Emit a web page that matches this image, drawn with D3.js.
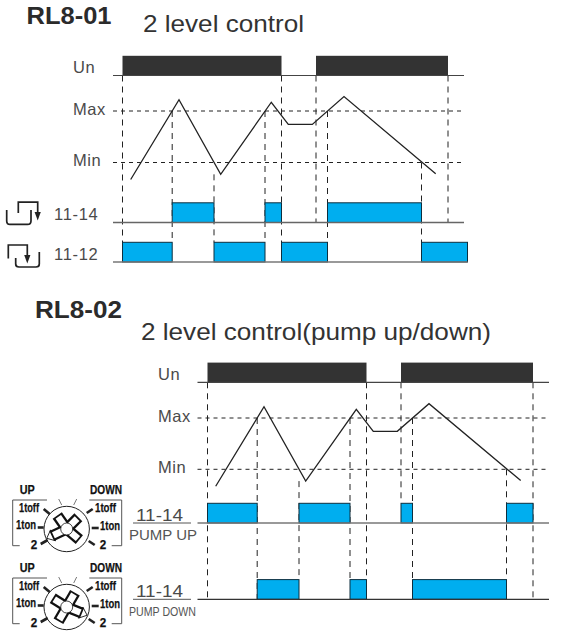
<!DOCTYPE html>
<html>
<head>
<meta charset="utf-8">
<script src="https://cdn.jsdelivr.net/npm/d3@7"></script>
<style>
  html, body { margin: 0; padding: 0; background: #fff; }
  text { font-family: "Liberation Sans", Arial, sans-serif; }
</style>
</head>
<body>
<div id="chart"></div>
<script>
const supplyOn = [[0, 159], [193.5, 325.5]];
const levelTime = [8.2, 56.5, 98.2, 148.8, 165.8, 189.8, 221.5, 313.2];
const levelValue = [-33, 122, -23, 117, 74, 74, 128, -22];
const levelTicks = [{name: 'Max', value: 100}, {name: 'Min', value: 0}];

const relay1114 = [[49.7, 91.5], [142.5, 159], [205, 299]];
const relay1112 = [[0, 49.7], [91.5, 142.5], [159, 205], [299, 345]];
const pumpUp = [[0, 49.7], [91.5, 142.5], [193.5, 205], [299, 325.5]];
const pumpDown = [[49.7, 91.5], [142.5, 159], [205, 299]];

// [time, where the guide starts, which row it stops at]
const guides01 = [
    [0, 'un', 'r2top'], [49.7, 'max', 'r2top'], [91.5, 'low', 'r2top'], [142.5, 'max', 'r2top'],
    [159, 'un', 'r2top'], [193.5, 'un', 'r1'], [205, 'max', 'r2top'], [299, 'min', 'r2top'], [325.5, 'un', 'r1']
];
const guides02 = [
    [0, 'un', 'r2'], [49.7, 'max', 'r2'], [91.5, 'low', 'r2top'], [142.5, 'max', 'r2top'],
    [159, 'un', 'r2'], [193.5, 'un', 'r1top'], [205, 'max', 'r2top'], [299, 'min', 'r2top'], [325.5, 'un', 'r2']
];

const width = 569, height = 641;
const BLUE = '#00aeef', DARK = '#333333', TEXT = '#4a4a4a', INK = '#222222';

const svg = d3.select('#chart').append('svg')
    .attr('width', width)
    .attr('height', height)
    .style('display', 'block');

function label(g, x, y, str, size, opts = {}) {
    return g.append('text')
        .attr('x', x).attr('y', y)
        .attr('font-size', size)
        .attr('font-weight', opts.weight || 'normal')
        .attr('fill', opts.fill || TEXT)
        .attr('letter-spacing', opts.spacing || 0)
        .attr('textLength', opts.length || null)
        .attr('lengthAdjust', opts.length ? 'spacingAndGlyphs' : null)
        .text(str);
}

function drawTiming(cfg) {
    const g = svg.append('g');
    const x = d3.scaleLinear().domain([0, 325.5]).range([cfg.x0, cfg.x0 + 325.5]);
    const y = d3.scaleLinear().domain([0, 100]).range([cfg.minY, cfg.maxY]);
    const rowH = 19.7;

    const stops = {
        un: cfg.unY, max: cfg.maxY, min: cfg.minY, low: y(-23),
        r1: cfg.row1Y, r1top: cfg.row1Y - rowH, r2: cfg.row2Y, r2top: cfg.row2Y - rowH
    };

    // guides go under everything else
    g.selectAll('line.guide')
        .data(cfg.guides)
        .enter()
        .append('line')
        .attr('class', 'guide')
        .attr('x1', d => x(d[0])).attr('x2', d => x(d[0]))
        .attr('y1', d => stops[d[1]]).attr('y2', d => stops[d[2]])
        .attr('stroke', INK)
        .attr('stroke-width', 1)
        .attr('stroke-dasharray', '6 5');

    // Max / Min levels
    g.selectAll('line.level')
        .data(levelTicks)
        .enter()
        .append('line')
        .attr('class', 'level')
        .attr('x1', cfg.lineL).attr('x2', cfg.levelR)
        .attr('y1', d => y(d.value)).attr('y2', d => y(d.value))
        .attr('stroke', INK)
        .attr('stroke-width', 1)
        .attr('stroke-dasharray', '4 4');

    // supply bars
    g.selectAll('rect.un')
        .data(supplyOn)
        .enter()
        .append('rect')
        .attr('class', 'un')
        .attr('x', d => x(d[0]))
        .attr('width', d => x(d[1]) - x(d[0]))
        .attr('y', cfg.unY - rowH)
        .attr('height', rowH)
        .attr('fill', DARK);
    g.append('line')
        .attr('x1', cfg.lineL).attr('x2', cfg.lineR)
        .attr('y1', cfg.unY).attr('y2', cfg.unY)
        .attr('stroke', '#444').attr('stroke-width', 1.2);

    // level signal
    const line = d3.line().x(d => x(d[0])).y(d => y(d[1]));
    g.append('path')
        .attr('d', line(d3.zip(levelTime, levelValue)))
        .attr('fill', 'none')
        .attr('stroke', INK)
        .attr('stroke-width', 1.3);

    // relay rows
    cfg.rows.forEach(row => {
        g.selectAll(null)
            .data(row.spans)
            .enter()
            .append('rect')
            .attr('x', d => x(d[0]))
            .attr('width', d => x(d[1]) - x(d[0]))
            .attr('y', row.y - rowH)
            .attr('height', rowH)
            .attr('fill', BLUE)
            .attr('stroke', '#0d2f3f')
            .attr('stroke-width', 1);
        g.append('line')
            .attr('x1', cfg.lineL).attr('x2', row.right)
            .attr('y1', row.y).attr('y2', row.y)
            .attr('stroke', row.stroke).attr('stroke-width', 1.3);
    });

    label(g, cfg.nameX, cfg.unY - 2.5, 'Un', 16.5, {spacing: 0.6});
    g.selectAll('text.tick')
        .data(levelTicks)
        .enter()
        .append('text')
        .attr('class', 'tick')
        .attr('x', cfg.nameX)
        .attr('y', d => y(d.value) + 3.5)
        .attr('font-size', 16.5)
        .attr('letter-spacing', 0.6)
        .attr('fill', TEXT)
        .text(d => d.name);
}

drawTiming({
    x0: 122.5, unY: 75.5, maxY: 111, minY: 162.5, row1Y: 222.5, row2Y: 262,
    lineL: 113, lineR: 464, levelR: 463, nameX: 73, guides: guides01,
    rows: [
        {spans: relay1114, y: 222.5, right: 464, stroke: '#666'},
        {spans: relay1112, y: 262, right: 467.5, stroke: '#777'}
    ]
});
drawTiming({
    x0: 207.5, unY: 382.3, maxY: 418, minY: 469.3, row1Y: 523, row2Y: 599.3,
    lineL: 197.5, lineR: 549, levelR: 548, nameX: 158, guides: guides02,
    rows: [
        {spans: pumpUp, y: 523, right: 549, stroke: '#777'},
        {spans: pumpDown, y: 599.3, right: 549, stroke: '#333'}
    ]
});

// titles
label(svg, 26.5, 24, 'RL8-01', 23, {weight: 'bold', fill: '#2b2b2b', length: 85});
label(svg, 143, 32, '2 level control', 24, {fill: '#333', length: 161});
label(svg, 35, 318, 'RL8-02', 23, {weight: 'bold', fill: '#2b2b2b', length: 87});
label(svg, 141, 340, '2 level control(pump up/down)', 24, {fill: '#333', length: 350});

// row names
label(svg, 54, 220, '11-14', 16.5, {spacing: 0.7});
label(svg, 54, 260, '11-12', 16.5, {spacing: 0.7});
label(svg, 136, 520.5, '11-14', 16.5, {length: 47});
label(svg, 136, 597, '11-14', 16.5, {length: 47});
label(svg, 129, 540, 'PUMP UP', 14, {length: 68, fill: '#555'});
label(svg, 129, 616, 'PUMP DOWN', 13, {length: 67, fill: '#555'});
[523, 599.3].forEach(yy => {
    svg.append('line')
        .attr('x1', 133).attr('x2', 191)
        .attr('y1', yy).attr('y2', yy)
        .attr('stroke', '#555').attr('stroke-width', 1);
});

// relay contact symbols
function relaySymbol(path, arrow) {
    const s = svg.append('g');
    s.append('path').attr('d', path)
        .attr('fill', 'none').attr('stroke', '#222').attr('stroke-width', 1.7);
    s.append('path').attr('d', arrow).attr('fill', '#222');
}
relaySymbol('M6.7,210V221Q6.7,224.4 10,224.4H27.5Q31,224.4 31,221V210M18.3,213V202.2H37.7V213',
    'M34.6,212L40.8,212L37.7,220.5Z');
relaySymbol('M8.3,258.5V245H27.3V256M15.7,258V264Q15.7,267 19,267H36Q39.3,267 39.3,264V252',
    'M24.2,255L30.4,255L27.3,263.5Z');

// selector dials
const thickTicks = [[-23, -20, -17, -15], [-29, -1.5, -23, -1.5], [-26, 15, -19, 11],
    [20, -16, 26, -20], [25, -1, 32, -1], [22, 12, 28, 16]];
const thinTicks = [[-8, -30, -5, -24], [10, -30, 7, -24]];
const dialLabels = [
    ['UP', -47, -35, 15, 13.5], ['DOWN', 23.3, -35, 32, 13.5],
    ['1toff', -47.7, -17, 20, 13.5], ['1toff', 28.3, -17, 21, 13.5],
    ['1ton', -50.7, 0, 20, 13.5], ['1ton', 33.3, 1, 20, 13.5],
    ['2', -36, 20, 6.5, 13.5], ['2', 33, 20, 6.5, 13.5]
];

function dial(cx, cy, armAngles, arrowAngle) {
    const d = svg.append('g').attr('transform', `translate(${cx},${cy})`);

    d.append('circle').attr('r', 22.7).attr('fill', '#fff').attr('stroke', '#222').attr('stroke-width', 1);

    // cross shaped knob, dark outline with white core
    const arm = (w, l) => `M${-w},0L${-w},${-l}L${w},${-l}L${w},0Z`;
    d.append('path').attr('d', 'M-6,-15L0,-22L6,-15Z').attr('transform', `rotate(${arrowAngle})`)
        .attr('fill', '#fff').attr('stroke', '#111').attr('stroke-width', 0.8);
    armAngles.forEach(a => {
        d.append('path').attr('d', arm(5.6, 16.5)).attr('transform', `rotate(${a})`).attr('fill', '#111');
    });
    armAngles.forEach(a => {
        d.append('path').attr('d', arm(3.3, 14.7)).attr('transform', `rotate(${a})`).attr('fill', '#fff');
    });
    d.append('circle').attr('r', 6).attr('fill', '#fff').attr('stroke', '#111').attr('stroke-width', 0.8);

    d.selectAll('line.thick')
        .data(thickTicks)
        .enter()
        .append('line')
        .attr('class', 'thick')
        .attr('x1', t => t[0]).attr('y1', t => t[1])
        .attr('x2', t => t[2]).attr('y2', t => t[3])
        .attr('stroke', '#222').attr('stroke-width', 2.6);
    d.selectAll('line.thin')
        .data(thinTicks)
        .enter()
        .append('line')
        .attr('class', 'thin')
        .attr('x1', t => t[0]).attr('y1', t => t[1])
        .attr('x2', t => t[2]).attr('y2', t => t[3])
        .attr('stroke', '#555').attr('stroke-width', 0.8);

    // brackets
    d.append('path').attr('d', 'M-19.7,-29H-54V16.7H-47M22.6,-29H55V16.7H45')
        .attr('fill', 'none').attr('stroke', '#555').attr('stroke-width', 1);

    dialLabels.forEach(l => {
        label(d, l[1], l[2], l[0], l[4], {weight: 'bold', fill: '#111', length: l[3]})
            .attr('stroke', '#111').attr('stroke-width', 0.25);
    });
}
dial(66.7, 529, [-35, 45, 130, 245], 245);
dial(66.7, 607, [30, 112, 210, 302], 112);
</script>
</body>
</html>
